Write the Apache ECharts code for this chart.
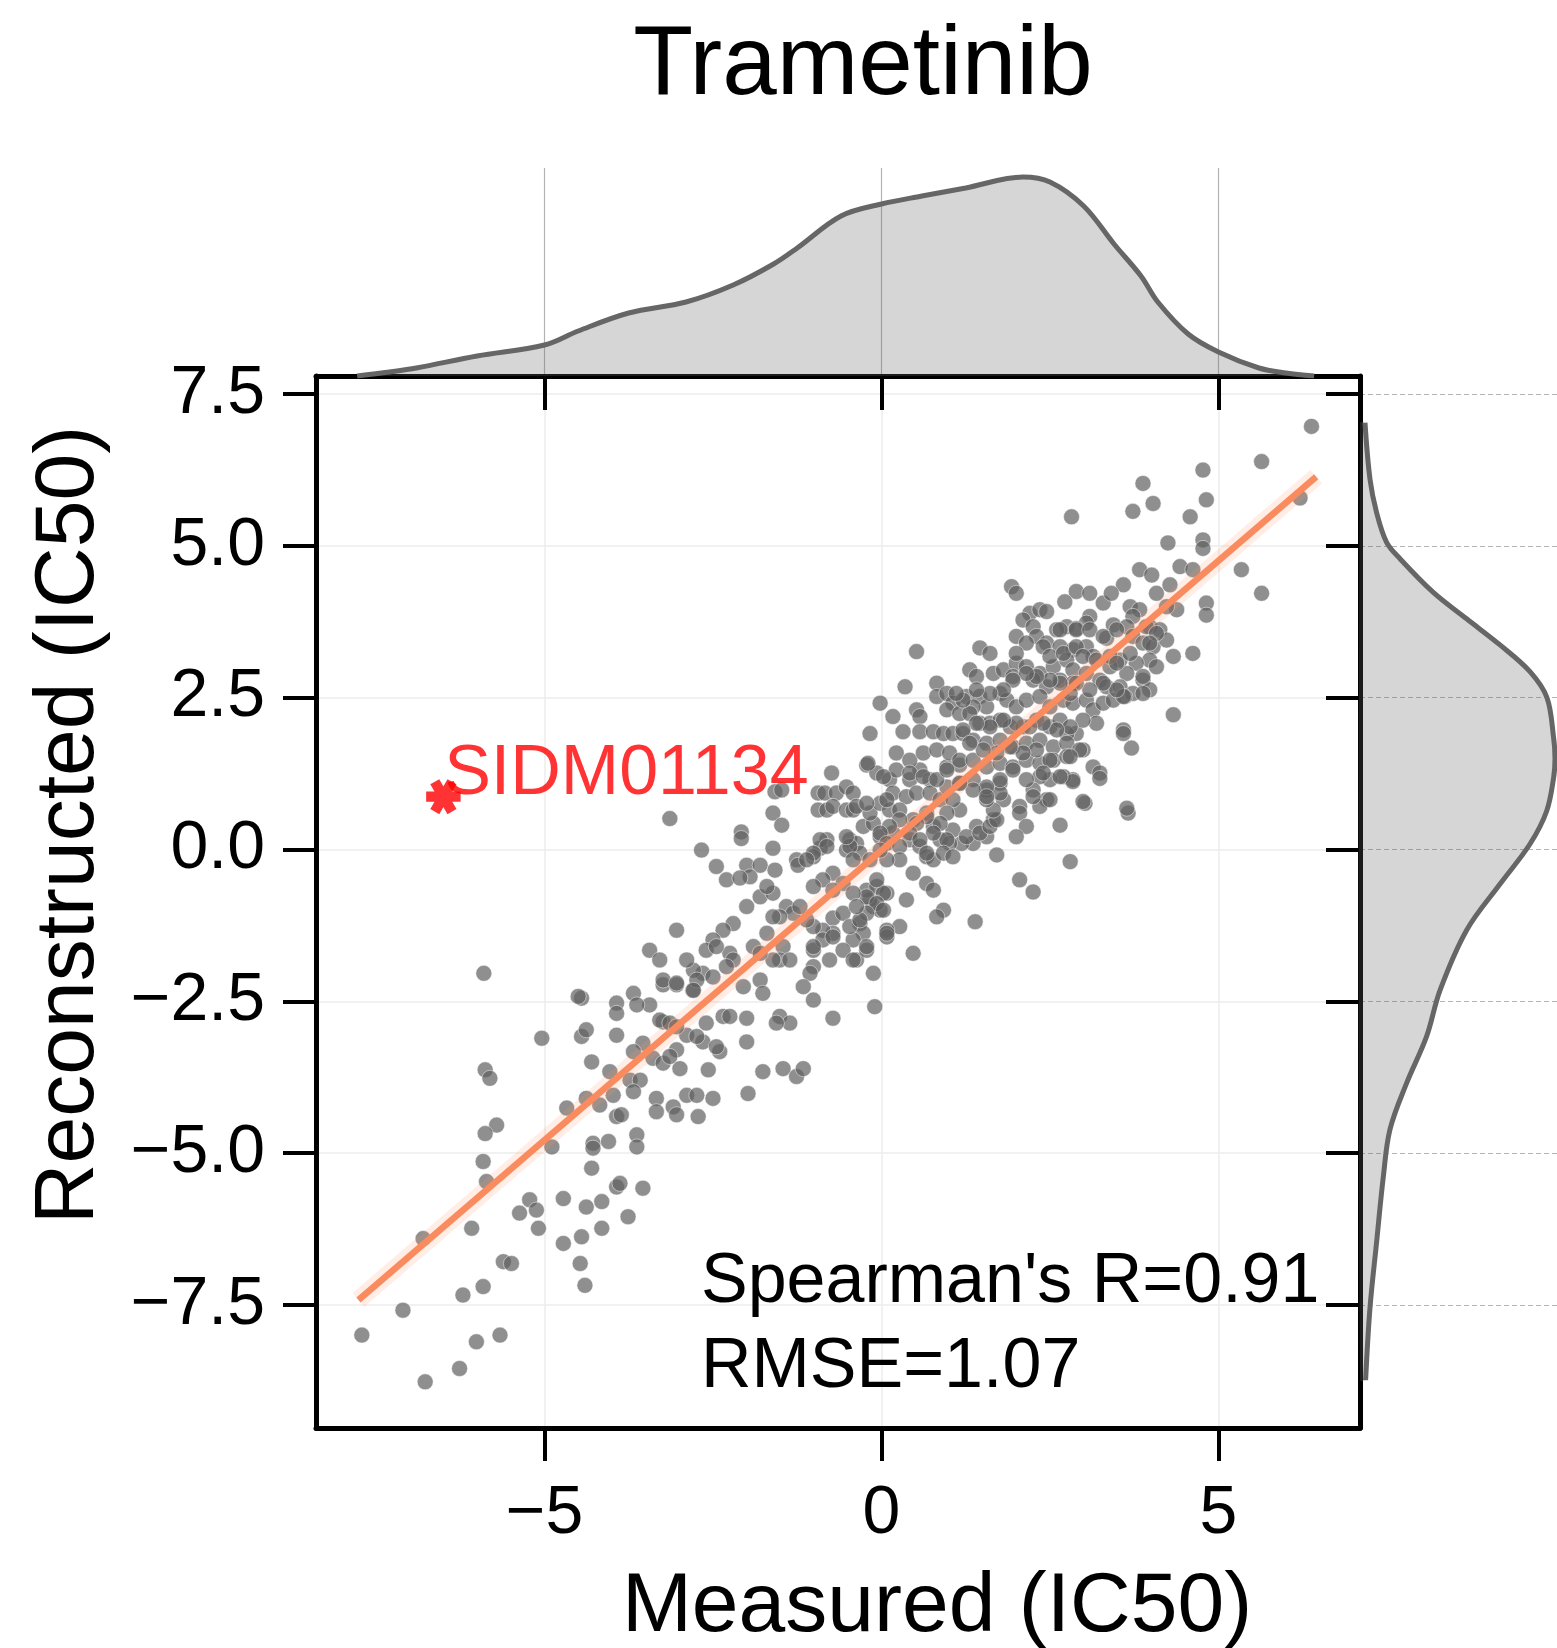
<!DOCTYPE html>
<html><head><meta charset="utf-8">
<script src="https://cdn.jsdelivr.net/npm/echarts@6/dist/echarts.min.js"></script>
<style>html,body{margin:0;padding:0;background:#fff}#c{width:1557px;height:1648px}</style>
</head><body><div id="c"></div>
<script>
// ---------------- data ----------------
const chartTitle = 'Trametinib';
const xName = 'Measured (IC50)';
const yName = 'Reconstructed (IC50)';
const xTicks = [-5, 0, 5];
const yTicks = [-7.5, -5, -2.5, 0, 2.5, 5, 7.5];
const xRange = [-8.39, 7.10];
const yRange = [-9.53, 7.80];
const statsLines = ["Spearman's R=0.91", "RMSE=1.07"];
const outlierName = 'SIDM01134';
const outlierPoint = [[-6.50, 0.87]];
const fitLine = [[-7.76, -7.42], [6.45, 6.14]];

const pointsLow = [[-5.90,-2.04],[-4.45,-2.45],[-4.50,-2.42],[-3.68,-2.37],[-3.93,-2.53],[-3.93,-2.70],[-3.44,-2.56],[-3.63,-2.56],[-3.24,-2.23],[-3.04,-2.23],[-2.80,-2.32],[-5.04,-3.11],[-4.45,-3.08],[-4.38,-2.97],[-3.93,-3.06],[-3.24,-2.84],[-2.89,-3.06],[-2.60,-2.86],[-2.65,-3.17],[-2.35,-2.75],[-2.25,-2.75],[-2.00,-2.78],[-2.00,-3.17],[-2.40,-3.33],[-3.54,-3.19],[-3.68,-3.33],[-3.39,-3.44],[-3.04,-3.30],[-2.99,-3.61],[-3.24,-3.52],[-4.30,-3.50],[-4.03,-3.66],[-3.73,-3.80],[-3.58,-3.80],[-3.68,-3.99],[-3.98,-4.05],[-2.57,-3.63],[-1.76,-3.66],[-1.98,-4.02],[-5.88,-3.63],[-5.81,-3.77],[-4.67,-4.26],[-4.38,-4.10],[-4.18,-4.21],[-3.34,-4.10],[-3.34,-4.32],[-3.09,-4.24],[-3.04,-4.37],[-2.89,-4.05],[-2.74,-4.05],[-2.50,-4.10],[-2.72,-4.40],[-3.93,-4.40],[-3.86,-4.37],[-5.71,-4.54],[-5.88,-4.68],[-4.89,-4.90],[-4.28,-4.84],[-4.28,-4.92],[-4.05,-4.81],[-3.63,-4.70],[-3.63,-4.90],[-4.30,-5.25],[-5.91,-5.14],[-5.86,-5.47],[-5.22,-5.77],[-5.37,-5.99],[-5.12,-5.94],[-5.09,-6.24],[-4.72,-5.75],[-4.38,-5.89],[-4.15,-5.80],[-3.93,-5.56],[-3.88,-5.50],[-3.54,-5.58],[-3.76,-6.05],[-6.08,-6.24],[-6.80,-6.41],[-4.45,-6.38],[-4.72,-6.49],[-4.15,-6.24],[-5.61,-6.79],[-5.49,-6.82],[-4.47,-6.82],[-4.40,-7.18],[-6.21,-7.34],[-5.91,-7.20],[-7.10,-7.59],[-7.71,-8.00],[-6.01,-8.11],[-5.66,-8.00],[-6.26,-8.55],[-6.77,-8.77]];

const pointsMid = [[-0.74,1.26],[-0.22,1.39],[-1.58,0.95],[-1.48,0.98],[-0.94,0.93],[-0.84,0.93],[-0.67,0.93],[-0.52,1.03],[-0.42,0.93],[-0.94,0.65],[-0.81,0.65],[-0.72,0.71],[-0.52,0.65],[-0.42,0.65],[-3.14,0.51],[-1.61,0.60],[-1.48,0.40],[-2.08,0.29],[-2.08,0.18],[-2.67,-0.01],[-1.61,0.02],[-2.45,-0.28],[-2.30,-0.50],[-2.00,-0.26],[-1.80,-0.26],[-1.95,-0.45],[-2.10,-0.47],[-1.58,-0.34],[-1.26,-0.17],[-1.24,-0.26],[-0.81,0.16],[-0.91,0.02],[-1.01,-0.12],[-0.47,0.16],[-0.52,-0.01],[-0.37,0.10],[-0.32,-0.06],[-0.27,0.38],[-0.12,0.43],[-0.02,0.21],[-0.17,0.60],[-0.02,0.76],[0.12,0.65],[-0.07,1.26],[0.12,1.15],[0.22,1.31],[0.42,1.15],[0.57,1.31],[0.72,1.15],[0.17,0.93],[0.37,0.87],[0.52,0.93],[0.72,0.93],[0.87,0.82],[0.97,1.03],[1.16,1.09],[1.36,1.15],[1.56,0.98],[0.97,1.36],[1.16,1.39],[1.76,1.09],[1.81,0.82],[1.66,0.49],[1.16,0.65],[1.06,0.32],[1.41,0.38],[1.56,0.21],[1.36,0.10],[1.19,0.10],[1.71,-0.09],[0.27,0.65],[0.47,0.49],[0.67,0.60],[0.77,0.38],[0.87,0.16],[1.01,0.10],[0.17,0.27],[0.42,0.16],[0.57,0.05],[0.67,-0.12],[0.77,-0.17],[0.47,-0.39],[0.67,-0.56],[0.77,-0.67],[0.92,-1.00],[0.82,-1.11],[1.39,-1.19],[0.37,-0.83],[0.27,-1.27],[0.08,-1.33],[0.08,-1.44],[0.47,-1.71],[-0.12,-0.94],[-0.02,-1.00],[-0.17,-0.83],[-0.22,-0.67],[-0.07,-0.61],[0.08,-0.72],[-0.32,-1.22],[-0.27,-1.38],[-0.42,-1.49],[-0.72,-1.13],[-0.57,-1.05],[-0.47,-1.27],[-0.72,-1.38],[-0.57,-1.66],[-0.77,-1.82],[-0.37,-1.82],[-0.22,-1.66],[-0.12,-2.04],[-0.10,-2.59],[-0.72,-2.78],[-1.01,-1.66],[-1.01,-1.93],[-1.06,-2.04],[-1.16,-2.26],[-1.01,-2.48],[-0.87,-1.33],[-0.87,-1.49],[-1.01,-1.27],[-1.11,-1.16],[-1.41,-0.94],[-1.31,-1.05],[-1.21,-0.94],[-1.51,-1.11],[-1.61,-1.11],[-1.46,-1.60],[-1.51,-1.82],[-1.36,-1.82],[-1.61,-1.82],[-1.70,-1.38],[-1.90,-1.60],[-1.80,-1.71],[-1.80,-2.15],[-1.76,-2.37],[-2.05,-2.26],[-2.00,-0.94],[-1.80,-0.78],[-1.61,-0.72],[-1.70,-0.61],[-2.20,-1.22],[-2.35,-1.33],[-2.50,-1.49],[-3.04,-1.33],[-2.25,-1.71],[-2.20,-1.82],[-2.30,-1.93],[-2.60,-1.66],[-2.45,-1.60],[-2.65,-2.04],[-2.79,-1.99],[-2.89,-1.82],[-2.74,-2.15],[-2.50,-2.10],[-3.44,-1.66],[-3.29,-1.82],[-3.24,-2.15],[-3.04,-2.20],[-2.79,-2.32],[-2.74,-3.08],[-2.45,-3.25],[-1.51,-2.75],[-1.36,-2.86],[-1.56,-2.86],[-1.46,-3.61],[-1.26,-3.74],[-1.16,-3.61],[-3.29,-2.81],[-3.14,-2.86],[-3.04,-2.92],[-3.14,-3.41]];

const pointsCore = [[3.83,4.61],[4.01,4.52],[4.43,4.66],[4.62,4.61],[5.34,4.61],[1.93,4.33],[2.00,4.22],[2.89,4.25],[3.09,4.22],[3.29,4.06],[2.72,4.08],[3.59,4.36],[3.41,4.22],[4.08,4.22],[4.28,4.36],[4.82,4.06],[4.82,3.86],[4.38,3.95],[3.69,4.00],[3.83,3.95],[3.73,3.84],[2.20,3.89],[2.35,3.95],[2.45,3.92],[2.10,3.78],[3.09,3.84],[3.04,3.73],[2.75,3.67],[2.89,3.64],[2.60,3.62],[2.25,3.67],[2.30,3.51],[2.00,3.51],[2.15,3.40],[3.44,3.70],[3.64,3.67],[3.34,3.48],[3.98,3.67],[4.13,3.62],[3.73,3.51],[3.88,3.40],[4.03,3.34],[4.23,3.45],[4.33,3.18],[4.62,3.23],[3.98,3.12],[3.78,3.07],[3.54,3.12],[3.39,3.01],[3.64,2.90],[3.88,2.79],[3.98,2.63],[2.45,3.40],[2.65,3.34],[2.84,3.29],[3.04,3.34],[3.14,3.18],[1.46,3.32],[1.61,3.23],[0.52,3.26],[1.31,2.96],[1.41,2.85],[1.66,2.90],[1.81,2.96],[2.00,3.07],[2.15,3.01],[2.35,2.90],[2.55,3.01],[2.75,3.12],[2.84,2.96],[1.95,2.85],[2.25,2.79],[2.45,2.68],[2.65,2.79],[2.84,2.74],[3.04,2.90],[3.24,2.79],[3.34,2.68],[3.54,2.68],[3.73,2.57],[3.88,2.57],[0.35,2.68],[0.82,2.74],[0.82,2.52],[0.97,2.57],[1.06,2.41],[1.26,2.52],[1.46,2.52],[1.56,2.35],[1.36,2.35],[1.76,2.57],[1.86,2.46],[2.00,2.35],[2.15,2.46],[2.35,2.52],[2.50,2.35],[2.70,2.46],[2.84,2.41],[3.04,2.46],[3.14,2.30],[3.29,2.41],[3.44,2.46],[3.61,2.52],[4.33,2.22],[3.59,1.97],[3.59,1.91],[3.71,1.67],[3.19,2.08],[2.99,1.64],[2.89,1.91],[2.75,1.91],[-0.02,2.41],[0.17,2.19],[0.52,2.30],[0.57,2.19],[-0.17,1.91],[0.32,1.94],[0.57,1.94],[0.77,1.94],[0.92,1.91],[1.06,1.91],[1.21,1.91],[0.97,2.30],[1.16,2.24],[1.31,2.24],[1.46,2.08],[1.61,2.08],[1.76,2.13],[1.91,2.02],[2.10,2.02],[2.30,2.13],[2.50,2.02],[2.65,2.13],[1.36,1.80],[1.56,1.75],[1.76,1.80],[1.95,1.69],[2.15,1.75],[2.35,1.80],[2.55,1.69],[2.75,1.75],[0.22,1.59],[0.42,1.47],[0.62,1.59],[0.82,1.64],[1.01,1.59],[1.16,1.47],[-0.20,1.42],[0.03,1.20],[0.42,1.26],[0.62,1.20],[0.82,1.15],[0.97,1.31],[1.36,1.47],[1.56,1.36],[1.76,1.42],[1.95,1.36],[2.15,1.47],[2.35,1.42],[2.55,1.47],[2.75,1.53],[2.94,1.64],[3.14,1.36],[3.24,1.26],[3.24,1.17],[2.84,1.15],[2.70,1.20],[2.50,1.15],[2.35,1.20],[2.25,0.98],[2.45,0.82],[2.35,0.71],[2.05,0.71],[2.05,0.60],[3.02,0.76],[3.66,0.60],[2.15,0.38],[2.00,0.21],[2.65,0.40],[2.80,-0.20],[2.05,-0.50],[2.25,-0.70],[1.26,0.21],[1.46,0.27],[1.61,0.38],[1.71,0.49],[1.66,0.65],[1.56,0.82],[1.76,0.93],[1.06,0.82],[0.97,0.60],[0.87,0.43],[0.97,0.16],[0.77,0.27],[0.67,0.54],[0.52,0.43],[0.42,0.27],[0.57,0.16],[0.67,-0.06],[0.92,-0.06],[1.06,-0.12],[0.27,0.49],[0.12,0.38],[-0.02,0.27],[0.08,0.10],[0.27,0.05],[0.27,-0.17],[0.08,-0.17],[-0.02,-0.01],[0.03,-0.72],[-0.07,-0.50],[-0.17,-0.17],[-0.47,0.05],[-0.52,0.21],[-0.42,-0.17],[-0.91,0.16],[-0.81,0.05],[-1.01,-0.06],[-1.11,-0.17],[-0.72,-0.39],[-0.87,-0.50],[-0.57,-0.56],[-1.01,-0.61],[-0.72,-0.67],[-0.22,-0.78],[-0.07,-0.89],[0.03,-1.00],[-0.22,-1.05],[-0.42,-0.72],[-0.32,-1.16],[-0.37,-0.94],[0.08,-1.38],[-0.22,-1.60],[-0.42,-1.82],[-0.72,-1.44],[-1.01,-1.60],[-0.37,0.71],[-0.22,0.76],[0.08,0.82]];

const pointsHigh = [[6.38,6.97],[5.64,6.39],[4.77,6.25],[3.88,6.03],[4.82,5.76],[4.03,5.70],[3.73,5.57],[2.82,5.48],[4.58,5.48],[6.21,5.79],[4.25,5.05],[4.77,5.10],[4.77,4.96],[5.64,4.22],[4.23,4.00],[2.65,3.62],[2.89,3.62],[3.09,3.62],[3.29,3.51],[3.49,3.62],[3.93,3.67],[4.08,3.56],[3.98,3.40],[2.00,3.23],[2.40,3.34],[2.50,3.18],[2.70,3.23],[2.89,3.34],[2.99,3.18],[3.19,3.12],[3.39,3.18],[3.49,3.07],[3.69,3.23],[4.08,3.01],[3.88,2.85],[3.59,2.52],[3.49,2.63],[3.29,2.74],[3.09,2.63],[2.89,2.74],[2.80,2.57],[2.65,2.74],[2.50,2.79],[2.30,2.85],[2.15,2.90],[1.95,2.79],[1.81,2.63],[1.61,2.57],[1.41,2.63],[1.21,2.46],[1.11,2.57],[2.99,2.13],[2.80,2.02],[2.60,1.97],[2.40,2.08],[2.20,2.02],[2.00,2.08],[1.81,2.13],[1.61,2.02],[1.41,2.08],[1.21,1.97],[2.80,1.53],[2.50,1.47],[2.30,1.64],[2.10,1.59],[1.91,1.69],[1.71,1.59],[1.51,1.64],[1.31,1.75],[2.84,1.12],[2.65,1.20],[2.40,1.26],[2.15,1.15],[1.95,1.31],[1.76,1.15],[1.56,1.03],[1.36,0.98],[1.16,1.09],[2.99,0.79],[3.64,0.68],[2.50,0.82],[2.25,0.87],[1.56,0.87]];

// marginal densities (relative units): measured (top), reconstructed (right)
const kdeTopX = [-7.78,-7.3,-6.9,-6.0,-5.0,-4.5,-3.75,-2.9,-2.2,-1.6,-1.25,-0.6,0.0,0.6,1.25,2.1,2.5,3.0,3.45,3.85,4.1,4.55,5.0,5.6,6.0,6.42];
const kdeTopD = [0.0,0.02,0.04,0.10,0.155,0.225,0.315,0.37,0.455,0.56,0.64,0.80,0.86,0.90,0.94,0.995,0.97,0.85,0.66,0.50,0.37,0.21,0.12,0.04,0.015,0.0];
const kdeRightY = [7.03,6.10,5.55,5.06,4.79,4.24,3.80,3.37,2.93,2.50,1.84,1.50,1.18,0.63,0.09,-0.57,-1.33,-2.32,-3.08,-3.85,-4.61,-5.38,-6.47,-7.55,-8.74];
const kdeRightD = [0.025,0.05,0.083,0.133,0.20,0.365,0.533,0.70,0.85,0.935,0.968,0.975,0.968,0.933,0.85,0.70,0.533,0.40,0.333,0.233,0.15,0.117,0.083,0.05,0.028];

// ---------------- chart ----------------
const FONT = '"Liberation Sans", Arial, Helvetica, sans-serif';
const neg = s => String(s).replace('-', '\u2212');
const points = pointsLow.concat(pointsMid, pointsCore, pointsHigh);
const starPath = 'path://M-1,-0.3L1,-0.3L1,0.3L-1,0.3ZM-0.24,-1.016L0.76,0.716L0.24,1.016L-0.76,-0.716ZM0.76,-0.716L-0.24,1.016L-0.76,0.716L0.24,-1.016Z';

const chart = echarts.init(document.getElementById('c'), null, {renderer: 'canvas', width: 1557, height: 1648});
const axisLine = {show: true, onZero: false, lineStyle: {color: '#000', width: 5}};
const option = {
  animation: false,
  backgroundColor: '#fff',
  textStyle: {fontFamily: FONT},
  grid: [
    {left: 316, top: 376, width: 1044, height: 1052},
    {left: 316, top: 168, width: 1044, height: 208},
    {left: 1360, top: 376, width: 197, height: 1052}
  ],
  xAxis: [
    {gridIndex: 0, type: 'value', position: 'bottom', min: xRange[0], max: xRange[1],
     axisLine: axisLine,
     axisTick: {show: true, customValues: xTicks, length: 33, lineStyle: {color: '#000', width: 4}},
     axisLabel: {show: true, customValues: xTicks, fontSize: 68, lineHeight: 68, color: '#000', margin: 52, fontFamily: FONT, formatter: v => neg(v)},
     splitLine: {show: true, lineStyle: {color: '#ededed', width: 1.5}}},
    {gridIndex: 0, type: 'value', position: 'top', min: xRange[0], max: xRange[1],
     axisLine: axisLine,
     axisTick: {show: true, inside: true, customValues: xTicks, length: 34, lineStyle: {color: '#000', width: 4}},
     axisLabel: {show: false}, splitLine: {show: false}},
    {gridIndex: 1, type: 'value', min: xRange[0], max: xRange[1],
     axisLine: {show: false}, axisTick: {show: false, customValues: xTicks},
     axisLabel: {show: false, customValues: xTicks},
     splitLine: {show: true, lineStyle: {color: '#b3b3b3', width: 1.2}}},
    {gridIndex: 2, type: 'value', min: 0, max: 0.985, show: false}
  ],
  yAxis: [
    {gridIndex: 0, type: 'value', position: 'left', min: yRange[0], max: yRange[1],
     axisLine: axisLine,
     axisTick: {show: true, customValues: yTicks, length: 33, lineStyle: {color: '#000', width: 4}},
     axisLabel: {show: true, customValues: yTicks, fontSize: 68, color: '#000', margin: 51, fontFamily: FONT, formatter: v => neg(Number(v).toFixed(1))},
     splitLine: {show: true, lineStyle: {color: '#ededed', width: 1.5}}},
    {gridIndex: 0, type: 'value', position: 'right', min: yRange[0], max: yRange[1],
     axisLine: axisLine,
     axisTick: {show: true, inside: true, customValues: yTicks, length: 34, lineStyle: {color: '#000', width: 4}},
     axisLabel: {show: false}, splitLine: {show: false}},
    {gridIndex: 1, type: 'value', min: 0, max: 1.04, show: false},
    {gridIndex: 2, type: 'value', min: yRange[0], max: yRange[1],
     axisLine: {show: false}, axisTick: {show: false, customValues: yTicks},
     axisLabel: {show: false, customValues: yTicks},
     splitLine: {show: true, lineStyle: {color: '#b3b3b3', width: 1.2, type: [5, 3]}}}
  ],
  graphic: [
    {type: 'text', x: 863, y: 67, style: {text: chartTitle, fontSize: 98, fontFamily: FONT, fill: '#000', align: 'center', verticalAlign: 'middle'}},
    {type: 'text', x: 937, y: 1608, style: {text: xName, fontSize: 84, fontFamily: FONT, fill: '#000', align: 'center', verticalAlign: 'middle'}},
    {type: 'text', x: 70, y: 825, rotation: Math.PI / 2, style: {text: yName, fontSize: 84, fontFamily: FONT, fill: '#000', align: 'center', verticalAlign: 'middle'}},
    {type: 'text', x: 701, y: 1283, z: 10, style: {text: statsLines[0], fontSize: 70, fontFamily: FONT, fill: '#000', align: 'left', verticalAlign: 'middle'}},
    {type: 'text', x: 701, y: 1368, z: 10, style: {text: statsLines[1], fontSize: 70, fontFamily: FONT, fill: '#000', align: 'left', verticalAlign: 'middle'}}
  ],
  series: [
    {type: 'scatter', xAxisIndex: 0, yAxisIndex: 0, data: points, symbolSize: 16, z: 2,
     itemStyle: {color: 'rgba(96,96,96,0.88)', borderColor: 'rgba(255,255,255,0.6)', borderWidth: 1}},
    {type: 'line', xAxisIndex: 0, yAxisIndex: 0, data: fitLine, symbol: 'none', z: 3,
     lineStyle: {color: 'rgba(252,141,98,0.16)', width: 18}},
    {type: 'line', xAxisIndex: 0, yAxisIndex: 0, data: fitLine, symbol: 'none', z: 4,
     lineStyle: {color: '#fa8b5e', width: 6.5}},
    {type: 'scatter', xAxisIndex: 0, yAxisIndex: 0, data: outlierPoint, symbol: starPath, symbolKeepAspect: true, symbolSize: 35, z: 6,
     itemStyle: {color: '#ff0000'},
     label: {show: true, formatter: outlierName, color: '#ff0000', fontSize: 70, fontFamily: FONT, position: [18, -4], align: 'left', verticalAlign: 'middle'}},
    {type: 'line', xAxisIndex: 2, yAxisIndex: 2, data: kdeTopX.map((x, i) => [x, kdeTopD[i]]),
     symbol: 'none', smooth: 0.35, z: 2,
     lineStyle: {color: '#666', width: 5},
     areaStyle: {color: '#666', opacity: 0.27}},
    {type: 'custom', xAxisIndex: 3, yAxisIndex: 3, data: kdeRightY.map((y, i) => [kdeRightD[i], y]), z: 2,
     renderItem: function (params, api) {
       if (params.dataIndex !== 0) return null;
       const pts = kdeRightY.map((y, i) => api.coord([kdeRightD[i], y]));
       const top = api.coord([0, kdeRightY[0]]);
       const bot = api.coord([0, kdeRightY[kdeRightY.length - 1]]);
       return {type: 'group', children: [
         {type: 'polygon', shape: {points: [top].concat(pts, [bot]), smooth: 0.35}, style: {fill: 'rgba(102,102,102,0.27)'}},
         {type: 'polyline', shape: {points: pts, smooth: 0.35}, style: {stroke: '#666', lineWidth: 5, fill: null}}
       ]};
     }}
  ]
};
chart.setOption(option);
</script>
</body></html>
